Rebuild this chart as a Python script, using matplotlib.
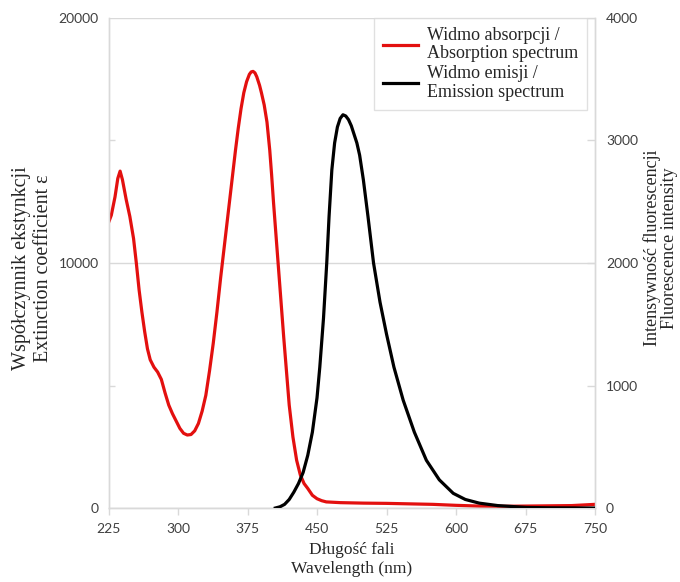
import matplotlib
matplotlib.use("Agg")
import matplotlib.pyplot as plt
from matplotlib.ticker import MultipleLocator

# ---- data ----
abs_wl = [225, 228, 232, 235, 237.5, 240, 244, 248, 252, 255, 258, 261, 264, 267, 270,
          274, 278, 282, 286, 290, 294, 298, 302, 306, 310, 314, 318, 322, 326, 330,
          334, 338, 342, 346, 350, 354, 358, 362, 365, 368, 371, 374, 377, 379, 381, 383,
          385, 388, 390, 393, 396, 399, 401, 403, 406, 408, 411, 414, 417, 420, 424, 428,
          432, 436, 440, 445, 450, 455, 460, 475, 500, 525, 550, 575, 600, 625, 650, 675,
          700, 725, 750]
abs_eps = [11650, 11950, 12700, 13450, 13750, 13400, 12600, 11900, 11000, 10000, 8900, 8000,
           7200, 6500, 6050, 5750, 5550, 5250, 4700, 4200, 3850, 3550, 3250, 3050, 2980,
           3000, 3150, 3450, 3950, 4600, 5600, 6720, 8000, 9400, 10700, 12000, 13300, 14600,
           15500, 16300, 16950, 17400, 17700, 17800, 17820, 17760, 17600, 17250, 16950,
           16450, 15750, 14600, 13600, 12500, 11000, 10000, 8500, 7000, 5600, 4200, 2900,
           1950, 1350, 1000, 800, 520, 380, 300, 250, 220, 200, 190, 170, 150, 110, 80, 70,
           80, 90, 100, 150]

em_wl = [405, 410, 415, 420, 425, 430, 435, 440, 445, 450, 453, 457, 460.5, 463, 466, 469,
         472, 475, 478, 481, 484, 487, 490, 493, 496, 500, 505, 511, 518, 525, 533, 543,
         555, 568, 582, 597, 610, 625, 645, 676, 700, 750]
em_int = [0, 10, 30, 70, 130, 200, 290, 430, 620, 900, 1150, 1550, 2000, 2380, 2760, 2980,
          3110, 3180, 3210, 3200, 3170, 3120, 3050, 2980, 2880, 2680, 2380, 2000, 1680, 1420,
          1150, 880, 620, 390, 230, 120, 70, 40, 20, 5, 2, 0]

x_ticks = [225, 300, 375, 450, 525, 600, 675, 750]
left_ticks = [0, 10000, 20000]
right_ticks = [0, 1000, 2000, 3000, 4000]

label_abs = "Widmo absorpcji /\nAbsorption spectrum"
label_em = "Widmo emisji /\nEmission spectrum"
xlabel = "Długość fali\nWavelength (nm)"
ylabel_left = "Współczynnik ekstynkcji\nExtinction coefficient ε"
ylabel_right = "Intensywność fluorescencji\nFluorescence intensity"

# ---- styling ----
SERIF = ["Liberation Serif", "DejaVu Serif"]
SANS = ["Lato", "DejaVu Sans"]
GRID = "#d9d9d9"
TICKC = "#404040"
TXT = "#262626"

fig = plt.figure(figsize=(6.8, 5.82), dpi=100)
ax = fig.add_axes([0.1596, 0.1271, 0.7154, 0.8420])
ax2 = ax.twinx()

l1, = ax.plot(abs_wl, abs_eps, color="#e3100f", lw=2.3, solid_joinstyle="round", zorder=3)
l2, = ax2.plot(em_wl, em_int, color="black", lw=2.3, solid_joinstyle="round", zorder=3)

ax.set_xlim(225, 750)
ax.set_ylim(0, 20000)
ax2.set_ylim(0, 4000)
ax.set_xticks(x_ticks)
ax.set_yticks(left_ticks)
ax.yaxis.set_minor_locator(MultipleLocator(5000))
ax2.set_yticks(right_ticks)

ax.grid(axis="y", which="major", color=GRID, lw=1.0)
ax.set_axisbelow(True)

for a in (ax, ax2):
    a.spines["top"].set_visible(False)
    for s in ("left", "right", "bottom"):
        a.spines[s].set_color(GRID)
        a.spines[s].set_linewidth(1.0)

ax.tick_params(axis="x", direction="out", length=5, width=1, color=GRID, colors=TICKC,
               labelsize=10, pad=6)
ax.tick_params(axis="y", which="major", length=0, colors=TICKC, labelsize=10, pad=7)
ax.tick_params(axis="y", which="minor", direction="in", length=4, width=1, color=GRID)
ax2.tick_params(axis="y", direction="in", length=6, width=1, color=GRID, colors=TICKC,
                labelsize=10, pad=8)

for lab in ax.get_xticklabels() + ax.get_yticklabels() + ax2.get_yticklabels():
    lab.set_family(SANS)

ax.set_xlabel(xlabel, family=SERIF, fontsize=12.5, color=TXT, linespacing=1.2, labelpad=5)
ax.set_ylabel(ylabel_left, family=SERIF, fontsize=14.5, color=TXT, linespacing=1.15)
ax2.set_ylabel(ylabel_right, family=SERIF, fontsize=13, color=TXT, linespacing=1.0)
ax.yaxis.set_label_coords(-0.115, 0.49)
ax2.yaxis.set_label_coords(1.098, 0.53)

leg = ax2.legend([l1, l2], [label_abs, label_em], loc="upper right",
                 bbox_to_anchor=(0.984, 1.0), prop={"family": SERIF, "size": 13},
                 frameon=True, fancybox=False, handlelength=1.95, handletextpad=0.5,
                 labelspacing=0.17, borderpad=0.5, borderaxespad=0.0)
leg.get_frame().set_edgecolor(GRID)
leg.get_frame().set_linewidth(1.0)
for t in leg.get_texts():
    t.set_color(TXT)
    t.set_linespacing(1.1)

fig.savefig("out.png", dpi=100)
